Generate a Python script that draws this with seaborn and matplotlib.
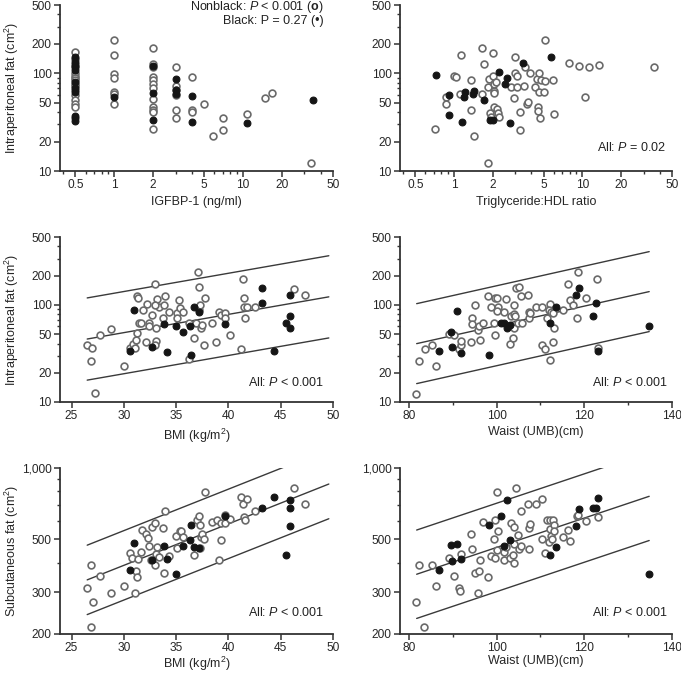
import numpy as np
import pandas as pd
import matplotlib
matplotlib.use("Agg")
import matplotlib.pyplot as plt
import matplotlib.ticker as mticker
import seaborn as sns

# ---- values ----
# IGFBP-1 vs intraperitoneal fat
igf_open_x = [0.5] * 13 + [1] * 7 + [2] * 12 + [3] * 6 + [4] * 3 + [5, 5.9, 7, 7, 10.8, 14.9, 16.8, 34]
igf_open_y = [164, 140, 117, 100, 94, 90, 85, 78, 74, 60, 53, 49, 45.5,
              219, 153, 98, 90, 65, 62, 48,
              183, 125, 115, 92, 85, 78, 70, 55, 45, 42, 40, 27,
              115, 75, 68, 60, 42, 35,
              92, 42, 40,
              48, 23, 35, 26, 38, 56, 63, 12]
igf_fill_x = [0.5] * 12 + [1] + [2] * 3 + [3] * 3 + [4] * 2 + [10.8, 35]
igf_fill_y = [148, 131, 124, 120, 108, 82, 70, 67, 64, 36.5, 34.6, 32.7,
              57, 120, 63, 33, 87, 67, 62, 59, 32, 31, 53]

# Triglyceride:HDL ratio vs intraperitoneal fat
tg_open_x = [0.71, 0.86, 0.86, 1.0, 1.04, 1.13, 1.12, 1.36, 1.36, 1.43, 1.66, 1.73, 1.65, 1.84,
             1.87, 1.9, 1.94, 2.0, 2.0, 2.06, 2.06, 2.06, 2.07, 2.13, 2.15, 2.2, 2.24, 1.83,
             2.8, 2.95, 3.0, 3.0, 3.1, 3.1, 3.3, 3.3, 3.5, 3.6, 3.7, 3.8, 3.9, 4.3, 4.4, 4.5,
             4.5, 4.6, 4.7, 4.8, 4.6, 5.0, 5.1, 5.1, 5.9, 6.0, 7.9, 9.5, 10.5, 11.3, 13.5, 36]
tg_open_y = [27, 57, 49, 94, 92, 153, 61, 86, 42, 23, 183, 125, 62, 72,
             88, 39, 36, 94, 162, 66, 63, 45, 78, 82, 43, 39, 36, 12,
             72, 56, 100, 146, 94, 72, 40, 26, 75, 116, 48, 51, 101, 72, 88, 45,
             41, 100, 35, 85, 64, 64, 84, 220, 85, 38, 126, 120, 57, 116, 121, 116]
tg_fill_x = [0.73, 0.92, 0.92, 1.16, 1.22, 1.20, 1.43, 1.42, 1.73, 1.92, 2.0, 2.24, 2.5, 2.6,
             2.71, 3.43, 5.73]
tg_fill_y = [96, 60, 37, 32, 64, 57, 66, 61, 53, 33, 33, 104, 77, 89, 31, 126, 148]

# BMI vs intraperitoneal fat
bmi_ip_open_x = [26.5, 27.0, 26.9, 27.2, 27.7, 28.8, 30.0, 30.6, 30.9, 31.1, 31.2, 31.3, 31.3,
                 31.4, 31.5, 31.6, 31.8, 32.1, 32.2, 32.4, 32.4, 32.7, 33.0, 33.1, 33.0, 33.1,
                 33.2, 33.4, 33.0, 33.8, 33.9, 33.7, 34.3, 35.1, 35.1, 35.3, 35.4, 35.7, 36.2,
                 36.2, 36.7, 36.9, 37.1, 37.2, 37.2, 37.3, 37.4, 37.5, 37.7, 37.8, 38.4, 38.8,
                 39.1, 39.3, 39.7, 39.7, 40.2, 41.2, 41.4, 41.5, 41.5, 41.6, 41.8, 42.5, 46.3,
                 47.3]
bmi_ip_open_y = [39, 36, 26.7, 12.3, 48.5, 56, 23.4, 36, 39.5, 36, 43.8, 51, 122,
                 117, 65, 65, 89, 41.5, 102, 65, 61, 78, 163, 42, 39, 58,
                 115, 96, 100, 100, 124, 73, 85, 82, 73, 112, 92, 84, 65,
                 27.4, 46, 65, 219, 154, 89, 100, 58, 62, 39, 119, 65, 41.5,
                 85, 79, 82, 73, 48.5, 35.4, 183, 119, 94, 73, 94, 94, 146,
                 126]
bmi_ip_fill_x = [31.0, 30.6, 32.7, 33.8, 34.1, 35.0, 35.7, 36.3, 36.4, 36.7, 37.2, 39.7, 43.2,
                 43.2, 44.4, 45.5, 45.9, 45.9, 45.9]
bmi_ip_fill_y = [89, 33.3, 36.6, 64, 32.5, 60, 53, 61, 30.8, 96, 85, 64, 148,
                 104, 33.3, 65, 126, 77, 58]

# Waist vs intraperitoneal fat
waist_ip_open_x = [81.6, 82.4, 83.7, 85.4, 86.1, 89.1, 90.4, 91.5, 91.8, 92.0, 94.1, 94.4, 94.4,
                   95.2, 95.8, 96.1, 96.3, 97.0, 98.0, 98.7, 99.4, 99.7, 99.7, 100.2, 100.4,
                   100.0, 101.6, 102.1, 103.1, 103.4, 103.7, 103.9, 104.0, 104.0, 104.2, 104.4,
                   105.2, 105.6, 104.8, 105.7, 107.1, 107.3, 107.3, 107.7, 108.9, 110.3, 110.3,
                   111.1, 111.5, 112.1, 112.3, 111.9, 112.5, 112.9, 113.1, 112.9, 115.2, 116.3,
                   116.7, 117.5, 118.4, 118.5, 120.4, 123.0, 123.1]
waist_ip_open_y = [12.2, 26.3, 35.4, 39, 23.3, 50, 48.5, 35.4, 39, 42, 41.5, 73, 63,
                   100, 55, 60, 44, 65, 122, 94, 65, 48.5, 117, 119, 94,
                   87, 85, 115, 40, 76, 45.6, 58, 80, 100, 76, 148,
                   154, 124, 65, 65, 126, 85, 73, 82, 94, 94, 39,
                   35.4, 73, 27, 102, 89, 85, 82, 58, 41.5, 89, 163,
                   112, 100, 73, 219, 119, 183, 36]
waist_ip_fill_x = [91.0, 89.6, 89.8, 86.9, 91.8, 98.3, 101.0, 101.7, 102.5, 103.1, 112.1, 113.5,
                   118.1, 118.9, 121.9, 122.7, 123.1, 134.8]
waist_ip_fill_y = [87, 53, 36.6, 33.3, 32, 30.8, 65, 65, 58, 62, 65, 96,
                   126, 148, 77, 104, 33.3, 60]

# BMI vs subcutaneous fat
bmi_sc_open_x = [26.5, 26.9, 27.1, 26.9, 27.7, 28.8, 30.0, 30.6, 30.8, 31.1, 31.2, 31.3, 31.4,
                 31.6, 31.7, 32.1, 32.3, 32.4, 32.6, 32.7, 33.0, 33.0, 33.1, 33.2, 33.4, 33.8,
                 33.7, 33.9, 34.3, 35.0, 35.1, 35.4, 35.5, 35.7, 36.7, 37.0, 37.2, 37.3, 37.4,
                 37.3, 37.5, 37.7, 37.8, 38.4, 38.9, 39.1, 39.3, 39.3, 39.7, 39.7, 40.2, 41.2,
                 41.4, 41.5, 41.8, 41.6, 42.5, 46.3, 47.3]
bmi_sc_open_y = [312, 391, 272, 215, 351, 297, 320, 438, 417, 298, 370, 349, 415,
                 445, 550, 527, 507, 470, 410, 567, 586, 391, 436, 467, 421, 361,
                 558, 656, 424, 515, 460, 541, 541, 512, 431, 605, 625, 577, 512,
                 460, 527, 501, 789, 595, 605, 410, 499, 586, 635, 586, 610, 755,
                 708, 621, 740, 605, 661, 824, 708]
bmi_sc_fill_x = [31.0, 30.6, 32.7, 33.8, 34.1, 35.0, 35.7, 36.3, 36.4, 36.7, 37.2, 39.7, 43.2,
                 44.4, 45.5, 45.9, 45.9, 45.9]
bmi_sc_fill_y = [483, 372, 410, 470, 413, 358, 470, 499, 577, 467, 460, 630, 678,
                 755, 431, 735, 678, 571]

# Waist vs subcutaneous fat
waist_sc_open_x = [81.6, 82.4, 83.5, 85.4, 86.1, 89.1, 90.4, 91.5, 91.6, 92.0, 94.1, 94.4, 95.1,
                   95.8, 96.1, 96.3, 97.0, 98.0, 98.7, 99.4, 99.7, 99.7, 100.2, 100.4, 100.2,
                   101.6, 101.6, 102.1, 103.1, 103.4, 103.7, 103.9, 104.0, 104.0, 104.4, 104.8,
                   105.2, 105.6, 105.6, 107.1, 107.3, 107.3, 107.7, 108.9, 110.3, 110.3, 111.1,
                   111.5, 112.0, 112.1, 112.3, 112.5, 112.7, 112.9, 113.1, 113.0, 115.2, 116.3,
                   116.7, 118.4, 118.5, 120.4, 123.1]
waist_sc_open_y = [272, 391, 215, 391, 319, 417, 351, 312, 302, 436, 528, 455, 361,
                   297, 369, 410, 595, 349, 424, 501, 417, 605, 789, 541, 452,
                   410, 445, 467, 417, 586, 431, 400, 564, 480, 824, 523,
                   455, 656, 470, 705, 558, 455, 582, 708, 740, 501, 438,
                   605, 490, 553, 605, 515, 501, 605, 577, 544, 512, 550,
                   493, 630, 635, 600, 620]
waist_sc_fill_x = [86.9, 89.8, 89.6, 91.0, 91.8, 98.3, 101.0, 101.6, 102.5, 103.1, 112.1, 113.5,
                   118.1, 118.9, 121.9, 122.7, 123.1, 134.8]
waist_sc_fill_y = [372, 407, 472, 480, 413, 577, 625, 470, 735, 499, 431, 467,
                   571, 673, 678, 678, 747, 357]

# fitted lines (ends of the centre line) and the band factor around them
bmi_ip_fit_x, bmi_ip_fit_y, bmi_ip_band = [26.5, 49.6], [44.5, 121], 2.65
waist_ip_fit_x, waist_ip_fit_y, waist_ip_band = [81.8, 134.8], [39.9, 137], 2.58
bmi_sc_fit_x, bmi_sc_fit_y, bmi_sc_band = [26.5, 49.6], [338, 856], 1.40
waist_sc_fit_x, waist_sc_fit_y, waist_sc_band = [81.8, 134.8], [357, 760], 1.535

# ---- style ----
sns.set_style("ticks")
plt.rcParams["font.family"] = ["Liberation Sans", "DejaVu Sans"]
plt.rcParams["mathtext.fontset"] = "custom"
plt.rcParams["mathtext.rm"] = "Liberation Sans"
plt.rcParams["mathtext.it"] = "Liberation Sans:italic"
plt.rcParams["mathtext.bf"] = "Liberation Sans:bold"
plt.rcParams["text.color"] = "#222222"

FS = 8.6
OPEN_EDGE = "#6a6a6a"
DARK = "#151515"
AX_COL = "#333333"

fig = plt.figure(figsize=(6.81, 6.73), dpi=100)
W = 681.0
H = 673.0
cols = [60, 400]
widths = [273, 272]
rows = [(5, 171), (237, 402), (468, 634)]


def make_ax(r, c):
    top, bot = rows[r]
    return fig.add_axes([cols[c] / W, (H - bot) / H, widths[c] / W, (bot - top) / H])


def fmt(v, pos):
    if v >= 1:
        return f"{v:,.0f}"
    return f"{v:g}"


def style_ax(ax, ylim, yticks, xlim, xticks=None, xminor=None, logx=False):
    ax.set_yscale("log")
    ax.set_ylim(*ylim)
    ax.yaxis.set_major_locator(mticker.FixedLocator(yticks))
    ax.yaxis.set_major_formatter(mticker.FuncFormatter(fmt))
    ax.yaxis.set_minor_locator(mticker.LogLocator(base=10, subs=np.arange(2, 10)))
    ax.yaxis.set_minor_formatter(mticker.NullFormatter())
    if logx:
        ax.set_xscale("log")
        ax.xaxis.set_major_locator(mticker.FixedLocator([0.5, 1, 2, 5, 10, 20, 50]))
        ax.xaxis.set_major_formatter(mticker.FuncFormatter(fmt))
        ax.xaxis.set_minor_locator(mticker.LogLocator(base=10, subs=np.arange(2, 10)))
        ax.xaxis.set_minor_formatter(mticker.NullFormatter())
    else:
        ax.xaxis.set_major_locator(mticker.FixedLocator(xticks))
        if xminor is not None:
            ax.xaxis.set_minor_locator(mticker.FixedLocator(xminor))
    ax.set_xlim(*xlim)
    sns.despine(ax=ax)
    for s in ("left", "bottom"):
        ax.spines[s].set_linewidth(1.3)
        ax.spines[s].set_color(AX_COL)
    ax.tick_params(which="major", length=4, width=1.1, color=AX_COL, labelsize=FS, pad=2)
    ax.tick_params(which="minor", length=2.5, width=1.0, color=AX_COL)


def draw_points(ax, ox, oy, fx, fy):
    pts = pd.concat([
        pd.DataFrame({"x": ox, "y": oy, "group": "Nonblack"}),
        pd.DataFrame({"x": fx, "y": fy, "group": "Black"}),
    ], ignore_index=True)
    sns.scatterplot(data=pts[pts.group == "Nonblack"], x="x", y="y", ax=ax, s=24,
                    color="white", edgecolor=OPEN_EDGE, linewidth=1.2, legend=False, zorder=3,
                    clip_on=False)
    sns.scatterplot(data=pts[pts.group == "Black"], x="x", y="y", ax=ax, s=24,
                    color=DARK, edgecolor=DARK, linewidth=0.8, legend=False, zorder=4,
                    clip_on=False)
    ax.set_xlabel("")
    ax.set_ylabel("")


def draw_fit(ax, fx, fy, band):
    mid = np.array(fy, dtype=float)
    for f in (band, 1.0, 1.0 / band):
        ax.plot(fx, mid * f, color="#3a3a3a", lw=1.0, zorder=2)


def corner_text(ax, txt, x, y):
    ax.text(x, y, txt, transform=ax.transAxes, ha="right", va="center", fontsize=FS + 0.4)


def set_ylab(ax, txt):
    # rotated label is anchored on its baseline side, i.e. its right edge
    ax.set_ylabel(txt, fontsize=FS + 0.4)
    ax.yaxis.set_label_coords(-0.142, 0.5)


ip_label = "Intraperitoneal fat (cm$^{2}$)"
sc_label = "Subcutaneous fat (cm$^{2}$)"
ip_ticks = [10, 20, 50, 100, 200, 500]
sc_ticks = [200, 300, 500, 1000]

# top left
ax = make_ax(0, 0)
draw_points(ax, igf_open_x, igf_open_y, igf_fill_x, igf_fill_y)
style_ax(ax, (10, 500), ip_ticks, (0.38, 50), logx=True)
ax.set_xlabel("IGFBP-1 (ng/ml)", fontsize=FS + 0.4, labelpad=3)
set_ylab(ax, ip_label)
corner_text(ax, "Nonblack: $P$ < 0.001 ($\\mathbf{o}$)", 0.967, 0.99)
corner_text(ax, "Black: P = 0.27 (\u2022)", 0.967, 0.905)

# top right
ax = make_ax(0, 1)
draw_points(ax, tg_open_x, tg_open_y, tg_fill_x, tg_fill_y)
style_ax(ax, (10, 500), ip_ticks, (0.38, 50), logx=True)
ax.set_xlabel("Triglyceride:HDL ratio", fontsize=FS + 0.4, labelpad=3)
corner_text(ax, "All: $P$ = 0.02", 0.978, 0.14)

# middle left
ax = make_ax(1, 0)
draw_fit(ax, bmi_ip_fit_x, bmi_ip_fit_y, bmi_ip_band)
draw_points(ax, bmi_ip_open_x, bmi_ip_open_y, bmi_ip_fill_x, bmi_ip_fill_y)
style_ax(ax, (10, 500), ip_ticks, (23.9, 50), xticks=[25, 30, 35, 40, 45, 50])
ax.set_xlabel("BMI (kg/m$^{2}$)", fontsize=FS + 0.4, labelpad=3)
set_ylab(ax, ip_label)
corner_text(ax, "All: $P$ < 0.001", 0.967, 0.12)

# middle right
ax = make_ax(1, 1)
draw_fit(ax, waist_ip_fit_x, waist_ip_fit_y, waist_ip_band)
draw_points(ax, waist_ip_open_x, waist_ip_open_y, waist_ip_fill_x, waist_ip_fill_y)
style_ax(ax, (10, 500), ip_ticks, (78, 140), xticks=[80, 100, 120, 140], xminor=[90, 110, 130])
ax.set_xlabel("Waist (UMB)(cm)", fontsize=FS + 0.4, labelpad=3)
corner_text(ax, "All: $P$ < 0.001", 0.985, 0.12)

# bottom left
ax = make_ax(2, 0)
draw_fit(ax, bmi_sc_fit_x, bmi_sc_fit_y, bmi_sc_band)
draw_points(ax, bmi_sc_open_x, bmi_sc_open_y, bmi_sc_fill_x, bmi_sc_fill_y)
style_ax(ax, (200, 1000), sc_ticks, (23.9, 50), xticks=[25, 30, 35, 40, 45, 50])
ax.set_xlabel("BMI (kg/m$^{2}$)", fontsize=FS + 0.4, labelpad=0.5)
set_ylab(ax, sc_label)
corner_text(ax, "All: $P$ < 0.001", 0.967, 0.127)

# bottom right
ax = make_ax(2, 1)
draw_fit(ax, waist_sc_fit_x, waist_sc_fit_y, waist_sc_band)
draw_points(ax, waist_sc_open_x, waist_sc_open_y, waist_sc_fill_x, waist_sc_fill_y)
style_ax(ax, (200, 1000), sc_ticks, (78, 140), xticks=[80, 100, 120, 140], xminor=[90, 110, 130])
ax.set_xlabel("Waist (UMB)(cm)", fontsize=FS + 0.4, labelpad=0.5)
corner_text(ax, "All: $P$ < 0.001", 0.985, 0.127)

fig.savefig("out.png", dpi=100)
